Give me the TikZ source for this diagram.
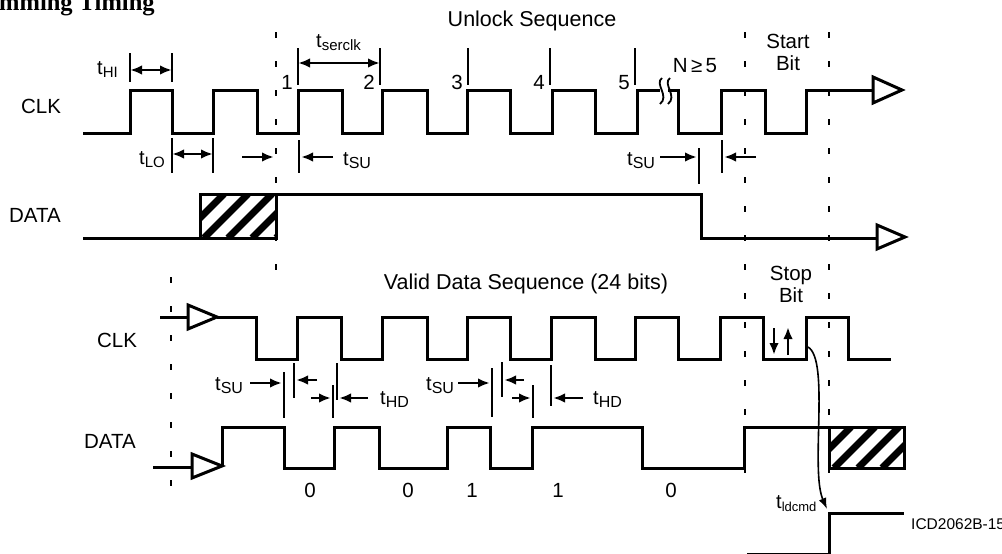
\documentclass[tikz,border=0pt]{standalone}
\usepackage{fontspec}
\setmainfont{Liberation Sans}
\newfontfamily\titlefont{Liberation Serif}
\usetikzlibrary{arrows.meta}
\newcommand{\tsub}[2][15]{{\fontsize{20}{20}\selectfont t}\raisebox{-3pt}{\fontsize{#1}{#1}\selectfont #2}}
\begin{document}
\begin{tikzpicture}[x=1pt,y=-1pt,
  wave/.style={line width=3pt, line join=miter},
  tri/.style={line width=3pt, line join=miter, fill=white},
  tickline/.style={line width=1.4pt},
  dimarrow/.style={line width=2.4pt, -{Latex[length=12pt,width=9.5pt]}},
  dimboth/.style={line width=2.4pt, {Latex[length=12pt,width=9.5pt]}-{Latex[length=12pt,width=9.5pt]}},
  guide/.style={line width=2.5pt, dash pattern=on 6pt off 23pt},
  hatch/.style={line width=7pt},
  lab/.style={font=\fontsize{20.5}{22}\selectfont, inner sep=0pt, anchor=base},
  biglab/.style={font=\fontsize{21.5}{23}\selectfont, inner sep=0pt, anchor=base},
  tlab/.style={inner sep=0pt, anchor=base west}
]
\useasboundingbox (0,0) rectangle (1002,554);
\fill[white] (0,0) rectangle (1002,554);

% title
\node[inner sep=0pt, anchor=base west, font=\titlefont\bfseries\fontsize{24.5}{26}\selectfont] (title) at (-1,10) {mming Timing};

% guides
\draw[guide] (276,32) -- (276,272);
\draw[guide] (745,32) -- (745,492);
\draw[guide] (829,32) -- (829,492);
\draw[guide] (171,277) -- (171,490);

% ---------- top CLK ----------
\draw[wave] (83,133) -- (130,133) -- (130,90) -- (172,90) -- (172,133) -- (213,133) -- (213,90) -- (257,90) -- (257,133) -- (298,133) -- (298,90) -- (342,90) -- (342,133) -- (382,133) -- (382,90) -- (427,90) -- (427,133) -- (467,133) -- (467,90) -- (510,90) -- (510,133) -- (552,133) -- (552,90) -- (595,90) -- (595,133) -- (637,133) -- (637,90) -- (660,90);
\draw[wave] (668,90) -- (678,90) -- (678,133) -- (721,133) -- (721,90) -- (765,90) -- (765,133) -- (806,133) -- (806,90) -- (873,90);
\draw[tri] (873,77) -- (902,90) -- (873,103) -- cycle;
% break symbol
\draw[line width=1.8pt] (662,78) .. controls (654,84) and (670,96) .. (660,104);
\draw[line width=1.8pt] (670,78) .. controls (662,84) and (678,96) .. (668,104);

% ---------- top DATA ----------
\draw[wave] (83,238) -- (200,238);
\begin{scope}
  \clip (200,194) rectangle (276,238);
  \foreach \k in {0,...,5} \draw[hatch] ({180+24*\k},238) -- ({224+24*\k},194);
\end{scope}
\draw[wave] (200,194) rectangle (276,238);
\draw[wave] (276,194) -- (701,194) -- (701,238) -- (877,238);
\draw[tri] (877,225) -- (905,237) -- (877,249) -- cycle;

% ---------- top annotations ----------
% tHI
\draw[tickline] (130,53) -- (130,82);
\draw[tickline] (172,53) -- (172,82);
\draw[dimboth] (130,70) -- (172,70);
\node[tlab] (thi) at (97,74) {\tsub{HI}};
% tLO
\draw[tickline] (172,138) -- (172,173);
\draw[tickline] (213,138) -- (213,173);
\draw[dimboth] (172,154) -- (213,154);
\node[tlab] (tlo) at (139,164) {\tsub{LO}};
% tserclk
\draw[tickline] (298,48) -- (298,85);
\draw[tickline] (380,48) -- (380,85);
\draw[dimboth] (298,63) -- (380,63);
\node[tlab] (tserclk) at (316,47) {\tsub{serclk}};
% count ticks
\draw[tickline] (468,48) -- (468,85);
\draw[tickline] (550,48) -- (550,85);
\draw[tickline] (635,48) -- (635,85);
\node[lab] (n1) at (287,89) {1};
\node[lab] (n2) at (369,89) {2};
\node[lab] (n3) at (457,89) {3};
\node[lab] (n4) at (539,89) {4};
\node[lab] (n5) at (624,89) {5};
% tSU 1
\draw[dimarrow] (242,157) -- (274,157);
\draw[tickline] (299,140) -- (299,173);
\draw[dimarrow] (333,157) -- (301,157);
\node[tlab] (tsu1) at (343,165) {\tsub[16]{SU}};
% tSU 2
\node[tlab] (tsu2) at (627,165) {\tsub[16]{SU}};
\draw[dimarrow] (660,157) -- (697,157);
\draw[tickline] (699,148) -- (699,184);
\draw[tickline] (722,140) -- (722,173);
\draw[dimarrow] (756,157) -- (724,157);

% top labels
\node[lab] (clk1) at (41,113) {CLK};
\node[lab] (data1) at (35,222) {DATA};
\node[biglab] (unlock) at (532,26) {Unlock Sequence};
\node[lab] (start) at (788,48) {Start};
\node[lab] (startbit) at (788,70) {Bit};
\node[lab] (nge) at (695,72) {N\,≥\,5};

% ---------- bottom CLK ----------
\draw[wave] (160,317) -- (188,317);
\draw[tri] (188,305) -- (217,317) -- (188,329) -- cycle;
\draw[wave] (217,317) -- (256,317) -- (256,359) -- (297,359) -- (297,317) -- (341,317) -- (341,359) -- (382,359) -- (382,317) -- (427,317) -- (427,359) -- (467,359) -- (467,317) -- (510,317) -- (510,359) -- (551,359) -- (551,317) -- (595,317) -- (595,359) -- (635,359) -- (635,317) -- (678,317) -- (678,359) -- (720,359) -- (720,317) -- (763,317) -- (763,359) -- (806,359) -- (806,317) -- (848,317) -- (848,359) -- (891,359);

% ---------- bottom DATA ----------
\draw[wave] (153,467) -- (192,467);
\draw[tri] (192,454) -- (222,466) -- (192,478) -- cycle;
\draw[wave] (222,466) -- (222,427) -- (284,427) -- (284,468) -- (334,468) -- (334,427) -- (379,427) -- (379,468) -- (447,468) -- (447,427) -- (490,427) -- (490,468) -- (532,468) -- (532,427) -- (642,427) -- (642,468) -- (744,468) -- (744,427) -- (829,427);
\begin{scope}
  \clip (829,427) rectangle (904,468);
  \foreach \k in {0,...,5} \draw[hatch] ({810+24*\k},468) -- ({851+24*\k},427);
\end{scope}
\draw[wave] (829,427) rectangle (904,468);

% third trace
\draw[wave] (747,554) -- (829,554) -- (829,513) -- (904,513);

% ---------- bottom annotations ----------
\node[tlab] (tsu3) at (215,390) {\tsub[16]{SU}};
\draw[dimarrow] (250,383) -- (282,383);
\draw[tickline] (284,372) -- (284,418);
\draw[tickline] (294,363) -- (294,398);
\draw[dimarrow] (317,380) -- (296,380);
\draw[dimarrow] (311,398) -- (331,398);
\draw[tickline] (333,385) -- (333,418);
\draw[tickline] (337,363) -- (337,400);
\draw[dimarrow] (368,398) -- (339,398);
\node[tlab] (thd1) at (380,404) {\tsub[16]{HD}};

\node[tlab] (tsu4) at (426,390) {\tsub[16]{SU}};
\draw[dimarrow] (458,383) -- (490,383);
\draw[tickline] (492,368) -- (492,417);
\draw[tickline] (502,362) -- (502,397);
\draw[dimarrow] (524,380) -- (504,380);
\draw[dimarrow] (512,398) -- (531,398);
\draw[tickline] (533,385) -- (533,418);
\draw[tickline] (551,365) -- (551,406);
\draw[dimarrow] (583,398) -- (553,398);
\node[tlab] (thd2) at (593,404) {\tsub[16]{HD}};

% stop bit arrows
\draw[dimarrow] (774,328) -- (774,355);
\draw[dimarrow] (788,355) -- (788,327);

% tldcmd
\draw[line width=1.6pt, -{Latex[length=11pt,width=8pt]}] (808,347) .. controls (830,360) and (810,470) .. (827,509);
\node[tlab] (tldcmd) at (776,508) {\tsub[13]{ldcmd}};

% bottom labels
\node[lab] (clk2) at (117,347) {CLK};
\node[lab] (data2) at (110,448) {DATA};
\node[biglab] (valid) at (526,289) {Valid Data Sequence (24 bits)};
\node[lab] (stop) at (791,280) {Stop};
\node[lab] (stopbit) at (791,302) {Bit};
\node[lab] (b1) at (310,497) {0};
\node[lab] (b2) at (408,497) {0};
\node[lab] (b3) at (472,497) {1};
\node[lab] (b4) at (558,497) {1};
\node[lab] (b5) at (671,497) {0};
\node[inner sep=0pt, anchor=base west, font=\fontsize{15.5}{17}\selectfont] (icd) at (911,529) {ICD2062B-15};
\end{tikzpicture}
\end{document}
